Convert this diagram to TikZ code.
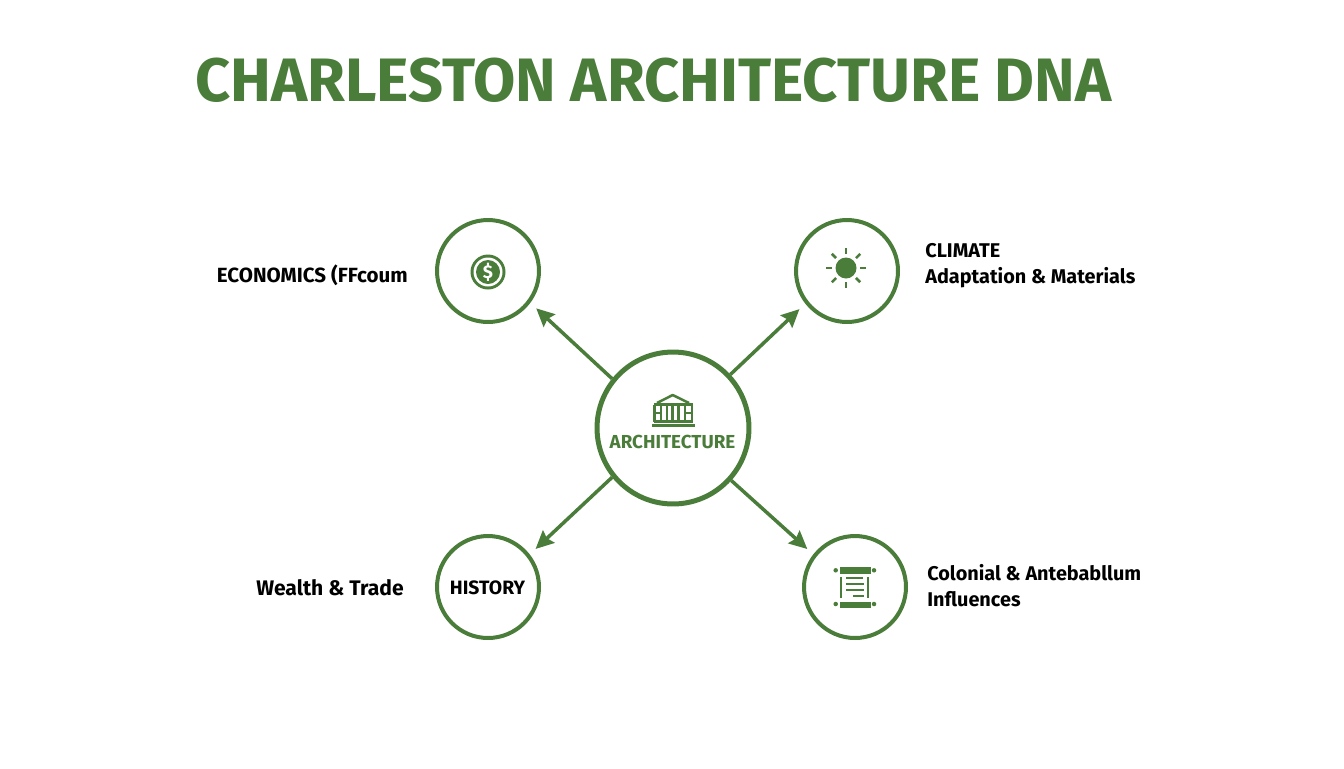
\documentclass[tikz,border=0pt]{standalone}
\usepackage{fontspec}
\setmainfont{Fira Sans}
\usetikzlibrary{arrows.meta}
\definecolor{dnagreen}{HTML}{4A7C3A}
\tikzset{
  hub/.style={circle, draw=dnagreen, line width=0.1cm, fill=white, minimum size=3.04cm, inner sep=0pt},
  spoke/.style={circle, draw=dnagreen, line width=0.08cm, fill=white, minimum size=2.04cm, inner sep=0pt},
  link/.style={-{Stealth[length=0.36cm,width=0.34cm,inset=0.05cm]}, draw=dnagreen, line width=0.07cm, shorten >=0.16cm},
  sidetext/.style={text=black, font=\fontsize{11.3}{14.8}\selectfont\bfseries, align=left, inner sep=0pt},
  iconline/.style={draw=dnagreen, line width=0.05cm}
}
\begin{document}
\begin{tikzpicture}[x=0.02cm, y=-0.02cm]
  \useasboundingbox (0,0) rectangle (1344,768);
  \node (title) at (653.5,80)[text=dnagreen, font=\fontsize{34.9}{40}\selectfont\bfseries, inner sep=0pt]{CHARLESTON ARCHITECTURE DNA};

  \node[hub] (arch) at (673,428){};
  \node[spoke] (econ) at (488,271){};
  \node[spoke] (climate) at (847,271){};
  \node[spoke] (hist) at (488,587){};
  \node[spoke] (influ) at (855,587){};
  \foreach \n/\a/\b in {econ/141/-37, climate/43/218, hist/219/38, influ/-42/142}{
    \draw[link] (arch.\a)--(\n.\b);
  }

  \node (archtext) at (672.5,441.5)[text=dnagreen, font=\fontsize{10.7}{12}\selectfont\bfseries, inner sep=0pt]{ARCHITECTURE};
  \node (histtext) at (487.5,587.5)[text=black, font=\fontsize{11}{12}\selectfont\bfseries, inner sep=0pt]{HISTORY};
  \node[sidetext, anchor=east, font=\fontsize{11.7}{14.8}\selectfont\bfseries] (econtext) at (408,275){ECONOMICS (FFcoum};
  \node[sidetext, anchor=west] (climatetext) at (925,266){CLIMATE\\Adaptation \& Materials};
  \node[sidetext, anchor=east, font=\fontsize{12}{14.8}\selectfont\bfseries] (wealthtext) at (404,588){Wealth \& Trade};
  \node[sidetext, anchor=west] (influtext) at (927,586){Colonial \& Antebabllum\\Influences};

  \fill[dnagreen] (488,272) circle (0.35cm);
  \fill[white] (488,272) circle (0.29cm);
  \fill[dnagreen] (488,272) circle (0.24cm);
  \node (dollar) at (488,272)[text=white, font=\fontsize{10.5}{11}\selectfont\bfseries, inner sep=0pt]{\$};

  \fill[dnagreen] (846,268) circle (0.21cm);
  \foreach \a in {0,45,...,315}{
    \draw[iconline] (846,268) ++(\a:14) -- ++(\a:6);
  }

  \fill[dnagreen] (839.5,566.5) rectangle (870.5,573.5);
  \fill[dnagreen] (839.5,601.5) rectangle (870.5,608);
  \foreach \x/\y in {835.7/570.3, 874/570.3, 835.7/604, 874/604}{
    \fill[dnagreen] (\x,\y) circle (0.045cm);
  }
  \foreach \x in {841,868}{
    \draw[iconline] (\x,577)--(\x,598);
  }
  \draw[iconline] (846,578)--(863,578);
  \draw[iconline] (846,584)--(864,584);
  \draw[iconline] (846,590)--(864,590);
  \draw[iconline] (853,596)--(864,596);

  \fill[dnagreen] (652,424)rectangle(695,426.5);
  \fill[dnagreen] (654,403)rectangle(693,405.5);
  \draw[iconline, line join=round] (657,403)--(672.7,395)--(689,403);
  \foreach \x in {654.5,661,667,672.7,678.5,685,692}{
    \draw[iconline] (\x,405)--(\x,421.5);
  }
  \draw[iconline] (654,421.5)--(693,421.5);
  \draw[iconline] (654,413)--(661,413);
  \draw[iconline] (685,413)--(692,413);
\end{tikzpicture}
\end{document}
